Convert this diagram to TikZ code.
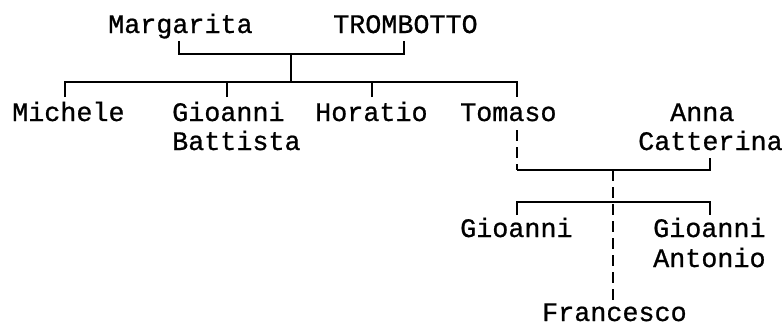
\documentclass[tikz,border=0pt]{standalone}
\usepackage{fontspec}
\newfontfamily\treefont{Liberation Mono}[FakeBold=0.8]
\begin{document}
\begin{tikzpicture}[x=1pt,y=-1pt,
  lbl/.style={font=\treefont\fontsize{26.75}{30}\selectfont, inner sep=0pt, anchor=base west},
  tie/.style={line width=1.8pt, line cap=butt},
  dashtie/.style={line width=1.8pt, dash pattern=on 11pt off 6pt}]
\useasboundingbox (0,0) rectangle (783,327);
% names
\node[lbl] (marg) at (108,33) {Margarita};
\node[lbl] (trom) at (333,33) {TROMBOTTO};
\node[lbl] (mich) at (12,121) {Michele};
\node[lbl] (gio) at (172,121) {Gioanni};
\node[lbl] (gio2) at (172,150) {Battista};
\node[lbl] (hor) at (315,121) {Horatio};
\node[lbl] (tom) at (460,121) {Tomaso};
\node[lbl] (anna) at (670,121) {Anna};
\node[lbl] (anna2) at (638,150) {Catterina};
\node[lbl] (gioB) at (460,237) {Gioanni};
\node[lbl] (gioA) at (653,237) {Gioanni};
\node[lbl] (gioA2) at (653,267) {Antonio};
\node[lbl] (fra) at (542,321) {Francesco};
% junction points
\coordinate (mtop) at (179,41);
\coordinate (ttop) at (404,41);
\coordinate (pb) at (291,54);
\coordinate (sb) at (291,82);
\coordinate (sbL) at (65,82);
\coordinate (sbR) at (517,82);
\coordinate (c1) at (65,97);
\coordinate (c2) at (227,97);
\coordinate (c3) at (372,97);
\coordinate (c4) at (517,97);
\coordinate (tomb) at (517,130);
\coordinate (cbL) at (517,170);
\coordinate (cbR) at (710,170);
\coordinate (anb) at (710,158);
\coordinate (cb) at (613,170);
\coordinate (kbL) at (517,202);
\coordinate (kbR) at (710,202);
\coordinate (k1) at (517,215);
\coordinate (k2) at (710,215);
\coordinate (frt) at (613,300);
% connectors
\draw[tie] (mtop) |- (pb) -| (ttop);
\draw[tie] (pb) -- (sb);
\draw[tie] (c1) -- (sbL) -- (sbR) -- (c4);
\draw[tie] (c2) |- (sb);
\draw[tie] (c3) |- (sb);
\draw[dashtie] (tomb) -- (cbL);
\draw[tie] (cbL) -- (cbR) -- (anb);
\draw[dashtie] (cb) -- (frt);
\draw[tie] (k1) -- (kbL) -- (kbR) -- (k2);
\end{tikzpicture}
\end{document}
